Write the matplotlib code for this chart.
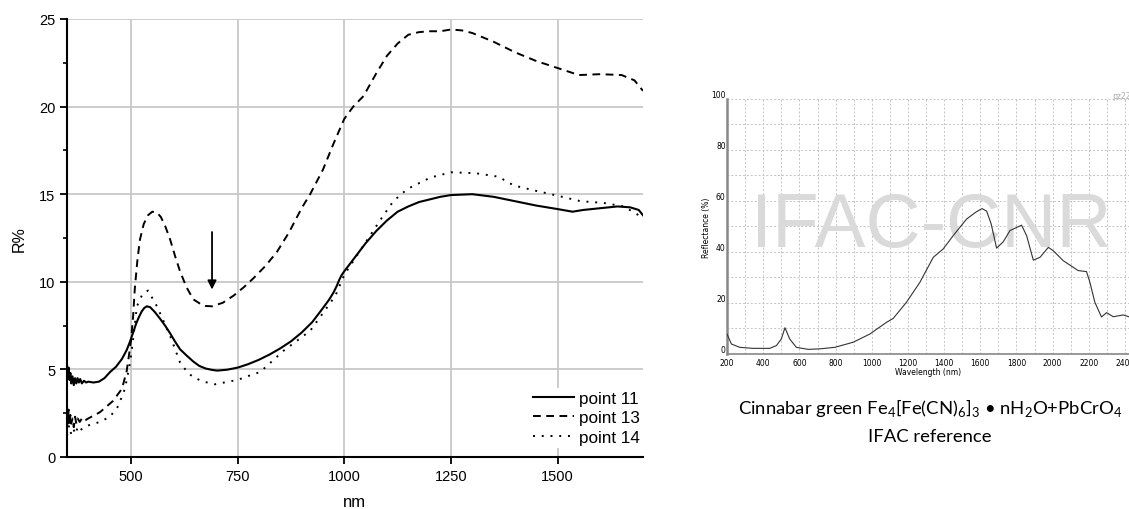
import numpy as np
import matplotlib
matplotlib.use('Agg')
import matplotlib.pyplot as plt

plt.rcParams['font.family'] = ['Liberation Sans', 'DejaVu Sans']
plt.rcParams['mathtext.fontset'] = 'custom'
plt.rcParams['mathtext.rm'] = 'Lato'

# point 11 (solid)
wl_11 = [350, 352, 354, 356, 358, 360, 363, 366, 369, 372, 375, 378, 381, 385, 390, 395, 400,
         412, 425, 438, 451, 465, 479, 490, 498, 505, 512, 518, 525, 531, 537, 545, 555, 568, 580, 592,
         603, 615, 630, 646, 660, 675, 690, 702, 725, 750, 775, 800, 825, 850, 875, 900, 925,
         950, 965, 975, 983, 988, 993, 1000, 1025, 1050, 1075, 1100, 1125, 1150, 1175, 1200,
         1225, 1250, 1300, 1350, 1400, 1450, 1500, 1535, 1560, 1600, 1640, 1670, 1690, 1700]
r_11 = [5.3, 4.6, 5.1, 4.4, 4.8, 4.2, 4.6, 4.1, 4.5, 4.2, 4.5, 4.25, 4.45, 4.2, 4.35, 4.25, 4.3,
        4.25, 4.3, 4.5, 4.85, 5.15, 5.6, 6.1, 6.6, 7.1, 7.6, 7.95, 8.3, 8.5, 8.6, 8.55, 8.3, 7.9, 7.5, 7.05,
        6.6, 6.15, 5.8, 5.45, 5.2, 5.05, 4.97, 4.93, 4.98, 5.1, 5.3, 5.55, 5.85, 6.2, 6.6, 7.1, 7.7,
        8.5, 9.0, 9.4, 9.8, 10.1, 10.35, 10.6, 11.4, 12.2, 12.9, 13.5, 14.0, 14.3, 14.55, 14.7,
        14.85, 14.95, 15.0, 14.85, 14.6, 14.35, 14.15, 14.0, 14.1, 14.2, 14.3, 14.25, 14.1, 13.8]

# point 13 (dashed)
wl_13 = [350, 352, 354, 356, 358, 360, 363, 366, 369, 372, 375, 380, 385, 390, 400, 427, 458,
         479, 490, 500, 505, 509, 515, 521, 530, 540, 550, 561, 570, 580, 592, 603, 615, 630,
         646, 662, 675, 690, 715, 740, 765, 787, 815, 842, 870, 900, 920, 950, 975, 1000, 1021,
         1045, 1075, 1100, 1125, 1150, 1175, 1200, 1225, 1250, 1275, 1300, 1350, 1400, 1450,
         1500, 1550, 1600, 1650, 1680, 1700]
r_13 = [3.0, 1.9, 2.7, 1.8, 2.4, 1.9, 2.2, 1.7, 2.3, 1.9, 2.2, 2.0, 2.2, 2.05, 2.2, 2.55, 3.2,
        3.9, 4.9, 6.6, 8.0, 9.6, 11.2, 12.4, 13.3, 13.8, 14.0, 13.95, 13.7, 13.2, 12.4, 11.5,
        10.6, 9.7, 9.0, 8.75, 8.62, 8.6, 8.8, 9.2, 9.7, 10.2, 10.9, 11.7, 12.8, 14.2, 15.0, 16.4,
        17.9, 19.3, 20.0, 20.6, 21.9, 22.9, 23.6, 24.1, 24.25, 24.3, 24.3, 24.4, 24.35, 24.2,
        23.7, 23.1, 22.6, 22.2, 21.8, 21.85, 21.8, 21.5, 20.9]

# point 14 (dotted)
wl_14 = [350, 355, 360, 365, 370, 375, 380, 390, 400, 427, 451, 470, 486, 498, 505, 514, 527,
         540, 561, 592, 615, 632, 646, 670, 697, 750, 784, 803, 857, 920, 960, 979, 1000, 1054,
         1092, 1115, 1148, 1202, 1250, 1307, 1361, 1397, 1448, 1502, 1554, 1608, 1655, 1690, 1700]
r_14 = [1.2, 1.8, 1.3, 1.6, 1.3, 1.7, 1.5, 1.7, 1.8, 2.0, 2.3, 2.9, 3.9, 5.4, 6.7, 8.6, 9.3,
        9.5, 8.6, 6.9, 5.4, 4.85, 4.55, 4.3, 4.15, 4.4, 4.7, 4.85, 6.05, 7.2, 8.55, 9.2, 10.4,
        12.4, 13.8, 14.6, 15.3, 15.95, 16.25, 16.2, 16.0, 15.5, 15.2, 14.9, 14.6, 14.5, 14.3,
        13.8, 13.7]

# IFAC reference spectrum
ref_wl = [200, 224, 270, 344, 436, 473, 500, 520, 546, 583, 648, 712, 796, 897, 989, 1081,
          1118, 1192, 1266, 1340, 1395, 1450, 1524, 1579, 1610, 1635, 1660, 1690, 1727, 1764,
          1828, 1856, 1893, 1930, 1976, 2003, 2058, 2141, 2187, 2206, 2233, 2270, 2298, 2335,
          2390, 2425]
ref_r = [7.8, 3.9, 2.6, 2.2, 2.2, 3.3, 5.9, 10.3, 5.9, 2.6, 1.8, 2.0, 2.6, 4.6, 7.8, 12.4,
         13.9, 20.3, 28.1, 37.9, 41.2, 46.4, 52.9, 55.8, 57.0, 56.0, 51.0, 41.5, 44.0, 48.4,
         50.5, 46.4, 36.8, 37.9, 41.8, 40.5, 36.6, 32.7, 32.3, 28.1, 20.3, 14.5, 16.2, 14.6,
         15.3, 14.5]

fig = plt.figure(figsize=(11.29, 5.10), dpi=100)

# main chart
ax = fig.add_axes([0.0593, 0.102, 0.5102, 0.8588])
ax.plot(wl_11, r_11, color='black', lw=1.5, label='point 11', zorder=3)
ax.plot(wl_13, r_13, color='black', lw=1.4, linestyle=(0, (4, 2.8)), label='point 13', zorder=3)
ax.plot(wl_14, r_14, color='black', lw=1.4, linestyle=(0, (1, 3.5)), label='point 14', zorder=3)
ax.annotate('', xy=(690, 9.4), xytext=(690, 13.0),
            arrowprops=dict(arrowstyle='-|>', color='black', lw=1.3, mutation_scale=13))

ax.set_xlim(350, 1700)
ax.set_ylim(0, 25)
ax.set_xticks([500, 750, 1000, 1250, 1500])
ax.set_yticks([0, 5, 10, 15, 20, 25])
ax.set_yticks(np.arange(2.5, 25, 5), minor=True)
ax.grid(True, which='major', color='#c8c8c8', lw=1.3, zorder=0)
ax.set_axisbelow(True)
for s in ['top', 'right']:
    ax.spines[s].set_visible(False)
for s in ['left', 'bottom']:
    ax.spines[s].set_linewidth(1.5)
ax.tick_params(which='major', direction='out', length=5, width=1.3, labelsize=10.5)
ax.tick_params(which='minor', direction='out', length=3, width=1.2)
ax.set_xlabel('nm', fontsize=12, labelpad=8)
ax.set_ylabel('R%', fontsize=11.5, labelpad=9)
leg = ax.legend(loc='lower right', bbox_to_anchor=(1.0, 0.02), fontsize=12.3,
                handlelength=2.4, handletextpad=0.3, labelspacing=0.26, borderpad=0.2,
                borderaxespad=0, frameon=True, fancybox=False)
leg.get_frame().set_edgecolor('none')
leg.get_frame().set_facecolor('white')
leg.get_frame().set_alpha(1)

# reference inset
ax2 = fig.add_axes([0.644, 0.304, 0.356, 0.5])
ax2.text(1330, 50, 'IFAC-CNR', fontsize=55, color='#dadada', ha='center', va='center', zorder=1)
ax2.plot(ref_wl, ref_r, color='#333333', lw=0.8, zorder=3)
ax2.set_xlim(200, 2422)
ax2.set_ylim(0, 100)
ax2.set_xticks(np.arange(200, 2500, 200))
ax2.set_xticks(np.arange(300, 2500, 200), minor=True)
ax2.set_yticks(np.arange(0, 101, 20))
ax2.set_yticks(np.arange(10, 100, 20), minor=True)
ax2.grid(True, which='both', color='#c4c4c4', lw=0.7, linestyle=(0, (2, 2)), zorder=0)
ax2.set_axisbelow(True)
for s in ['top', 'right']:
    ax2.spines[s].set_visible(False)
ax2.spines['left'].set_color('#888888')
ax2.spines['left'].set_linewidth(1.8)
ax2.spines['bottom'].set_color('#888888')
ax2.spines['bottom'].set_linewidth(1.2)
ax2.tick_params(which='both', length=0, labelsize=5.5, labelfontfamily='DejaVu Sans')
ax2.tick_params(axis='x', pad=3)
ax2.tick_params(axis='y', pad=1)
for t in ax2.get_yticklabels():
    t.set_va('bottom')
ax2.set_xlabel('Wavelength (nm)', fontsize=5.5, labelpad=0, fontfamily='DejaVu Sans')
ax2.set_ylabel('Reflectance (%)', fontsize=5.5, labelpad=0, fontfamily='DejaVu Sans')
ax2.text(2330, 99.5, 'pz22', fontsize=5.5, color='#aaaaaa', va='bottom', clip_on=False,
         fontfamily='DejaVu Sans')

cap1 = ('Cinnabar green Fe$_\\mathrm{4}$[Fe(CN)$_\\mathrm{6}$]$_\\mathrm{3}$'
        ' \u2022 nH$_\\mathrm{2}$O+PbCrO$_\\mathrm{4}$')
fig.text(930 / 1129, 1 - 408 / 510, cap1, fontsize=13.3, ha='center', va='center', fontfamily='Lato')
fig.text(930 / 1129, 1 - 437 / 510, 'IFAC reference', fontsize=13.3, ha='center', va='center',
         fontfamily='Lato')

fig.savefig('out.png', dpi=100)
